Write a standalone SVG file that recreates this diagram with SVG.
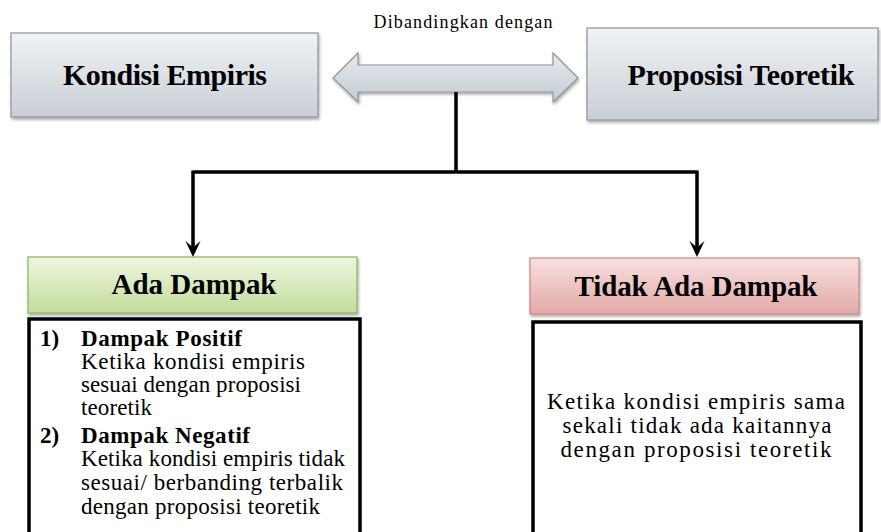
<svg xmlns="http://www.w3.org/2000/svg" width="881" height="532" viewBox="0 0 881 532">
<style>
  text { font-family: "Liberation Serif", "Times New Roman", serif; fill: #000; }
  .title { font-size: 30px; font-weight: bold; text-anchor: middle; }
  .head { font-size: 29px; font-weight: bold; text-anchor: middle; }
  .body { font-size: 23px; }
  .bold { font-weight: bold; }
  .center { text-anchor: middle; }
  .conn { fill: none; stroke: #000; stroke-width: 3.5; }
  .tip { fill: #000; }
  .tbox { fill: #fff; stroke: #000; stroke-width: 3.5; }
</style>
<defs>
  <linearGradient id="gGray" x1="0" y1="0" x2="0" y2="1">
    <stop offset="0" stop-color="#f1f3f5"/>
    <stop offset="1" stop-color="#c8cfd6"/>
  </linearGradient>
  <linearGradient id="gArrow" x1="0" y1="0" x2="0" y2="1">
    <stop offset="0" stop-color="#e6eaee"/>
    <stop offset="1" stop-color="#c3ccd4"/>
  </linearGradient>
  <linearGradient id="gGreen" x1="0" y1="0" x2="0" y2="1">
    <stop offset="0" stop-color="#eef5e2"/>
    <stop offset="1" stop-color="#c3dd9c"/>
  </linearGradient>
  <linearGradient id="gRed" x1="0" y1="0" x2="0" y2="1">
    <stop offset="0" stop-color="#f8e0e0"/>
    <stop offset="1" stop-color="#e2a9a8"/>
  </linearGradient>
  <filter id="sh" x="-10%" y="-10%" width="120%" height="130%">
    <feGaussianBlur in="SourceAlpha" stdDeviation="1.5"/>
    <feOffset dx="1" dy="2" result="b"/>
    <feComponentTransfer><feFuncA type="linear" slope="0.35"/></feComponentTransfer>
    <feMerge><feMergeNode/><feMergeNode in="SourceGraphic"/></feMerge>
  </filter>
</defs>

<g id="kondisi-empiris">
  <rect x="11" y="33" width="307" height="84" fill="url(#gGray)" stroke="#8c959c" stroke-width="1.2" filter="url(#sh)"/>
  <text class="title" x="165" y="85" textLength="204">Kondisi Empiris</text>
</g>

<g id="proposisi-teoretik">
  <rect x="587" y="28" width="291" height="92" fill="url(#gGray)" stroke="#8c959c" stroke-width="1.2" filter="url(#sh)"/>
  <text class="title" x="741" y="85" textLength="227">Proposisi Teoretik</text>
</g>

<g id="dibandingkan">
  <path d="M333,78 L358,53 L358,65 L553,65 L553,53 L578,78 L553,102 L553,92 L358,92 L358,102 Z" fill="url(#gArrow)" stroke="#8c959c" stroke-width="1.2" filter="url(#sh)"/>
  <text x="463" y="28" class="center" style="font-size:18px" textLength="179">Dibandingkan dengan</text>
</g>

<g id="connectors">
  <path class="conn" d="M456,92 V172 M193,172 H697 M193,170.5 V249 M697,170.5 V249"/>
  <path class="tip" d="M193,257 L185.5,241 L193,247.5 L200.5,241 Z"/>
  <path class="tip" d="M697,257 L689.5,241 L697,247.5 L704.5,241 Z"/>
</g>

<g id="ada-dampak">
  <rect x="28" y="257" width="329" height="56" fill="url(#gGreen)" stroke="#8cb55a" stroke-width="1.2" filter="url(#sh)"/>
  <text class="head" x="194" y="294" textLength="165">Ada Dampak</text>
</g>

<g id="ada-dampak-detail">
  <rect class="tbox" x="29" y="319" width="331" height="220"/>
  <text class="body bold" x="40" y="346">1)</text>
  <text class="body bold" x="81" y="346" textLength="161">Dampak Positif</text>
  <text class="body" x="81" y="369" textLength="224">Ketika kondisi empiris</text>
  <text class="body" x="81" y="392" textLength="220">sesuai dengan proposisi</text>
  <text class="body" x="81" y="415" textLength="71">teoretik</text>
  <text class="body bold" x="40" y="443">2)</text>
  <text class="body bold" x="81" y="443" textLength="169">Dampak Negatif</text>
  <text class="body" x="81" y="466" textLength="264">Ketika kondisi empiris tidak</text>
  <text class="body" x="81" y="490" textLength="262">sesuai/ berbanding terbalik</text>
  <text class="body" x="81" y="514" textLength="239">dengan proposisi  teoretik</text>
</g>

<g id="tidak-ada-dampak">
  <rect x="530" y="258" width="329" height="56" fill="url(#gRed)" stroke="#c98786" stroke-width="1.2" filter="url(#sh)"/>
  <text class="head" x="696" y="296" textLength="243">Tidak Ada Dampak</text>
</g>

<g id="tidak-ada-dampak-detail">
  <rect class="tbox" x="533" y="322" width="328" height="220"/>
  <text class="body center" x="696" y="409" textLength="298">Ketika kondisi empiris sama</text>
  <text class="body center" x="697" y="433" textLength="269">sekali tidak ada kaitannya</text>
  <text class="body center" x="696" y="457" textLength="271">dengan proposisi teoretik</text>
</g>
</svg>
